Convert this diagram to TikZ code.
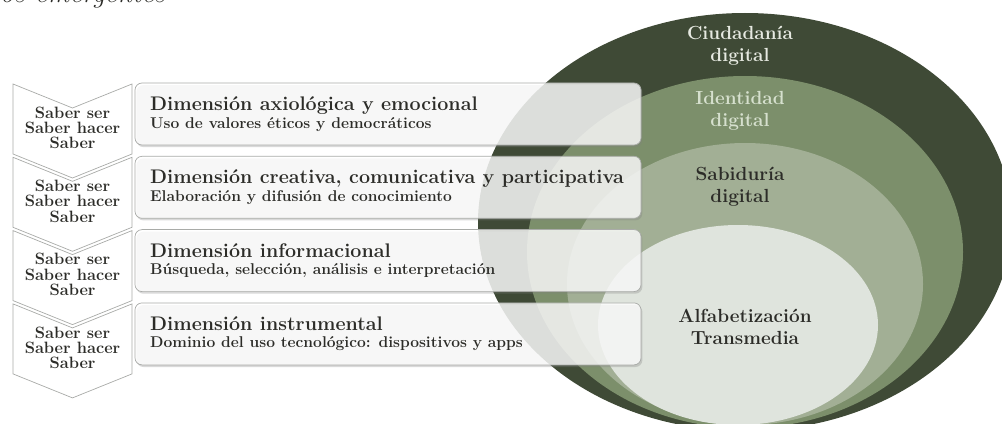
\documentclass[tikz,border=0pt]{standalone}
\usepackage{tikz}
\usetikzlibrary{positioning,shadows}
\definecolor{ciudad}{HTML}{3F4A36}
\definecolor{identidad}{HTML}{7C8F6B}
\definecolor{sabiduria}{HTML}{A2AF95}
\definecolor{alfabeto}{HTML}{DFE4DD}
\definecolor{rim}{HTML}{A9ABA8}
\definecolor{ink}{HTML}{2C2C28}
\definecolor{paleink}{HTML}{E6E9E1}
\definecolor{greenink}{HTML}{D6E0CE}

\begin{document}
\begin{tikzpicture}[x=0.03cm,y=-0.03cm,
    dimbox/.style={draw=rim,line width=0.6pt,fill=white,fill opacity=0.8,rounded corners=6pt,
      drop shadow={shadow xshift=1.2pt,shadow yshift=-1.8pt,opacity=0.3}},
    chevron/.style={draw=rim,line width=0.6pt,fill=white},
    headtext/.style={anchor=base west,inner sep=0pt,text=ink,font=\fontsize{16.8}{19}\selectfont\bfseries},
    notetext/.style={anchor=base west,inner sep=0pt,text=ink,font=\fontsize{13.3}{15}\selectfont\bfseries},
    sabertext/.style={align=center,inner sep=0pt,text=ink,font=\fontsize{14}{13}\selectfont\bfseries},
    ringtext/.style={align=center,inner sep=0pt,font=\fontsize{16.2}{18.5}\selectfont\bfseries}]
  \useasboundingbox (0,0) rectangle (1002,424);
  % caption line cut by the top edge
  \node[anchor=base west,inner sep=0pt,text=ink,font=\fontsize{23.7}{28}\selectfont\itshape] (caption) at (0,3) {os emergentes};

  % nested rings
  \fill[ciudad] (745,222) ellipse [x radius=267,y radius=209];
  \fill[identidad] (745,252) ellipse [x radius=218,y radius=176];
  \fill[sabiduria] (745,284) ellipse [x radius=178,y radius=141];
  \fill[alfabeto] (738,325) ellipse [x radius=140,y radius=100];

  % dimension boxes
  \foreach \k/\head/\note in {0/{Dimensión axiológica y emocional}/{Uso de valores éticos y democráticos},
      1/{Dimensión creativa, comunicativa y participativa}/{Elaboración y difusión de conocimiento},
      2/{Dimensión informacional}/{Búsqueda, selección, análisis e interpretación},
      3/{Dimensión instrumental}/{Dominio del uso tecnológico: dispositivos y apps}}{
    \pgfmathsetmacro\ytop{83+73.3*\k}
    \draw[dimbox] (135,\ytop) rectangle (641,\ytop+62);
    \node[headtext] (head\k) at (150,\ytop+27.5) {\head};
    \node[notetext] (note\k) at (150,\ytop+45) {\note};
  }

  % chevrons
  \foreach \k in {0,...,3}{
    \pgfmathsetmacro\ytop{84+73.3*\k}
    \draw[chevron] (13,\ytop) -- (72.5,\ytop+24) -- (132,\ytop) -- (132,\ytop+70)
      -- (72.5,\ytop+94) -- (13,\ytop+70) -- cycle;
    \node[sabertext] (saber\k) at (72.5,\ytop+44) {Saber ser\\Saber hacer\\Saber};
  }

  % ring labels
  \node[ringtext,text=paleink] (ciudadania) at (740,46) {Ciudadanía\\digital};
  \node[ringtext,text=greenink] (identidad) at (740,111) {Identidad\\digital};
  \node[ringtext,text=ink] (sabiduria) at (740,187) {Sabiduría\\digital};
  \node[ringtext,text=ink] (alfabetizacion) at (745,327) {Alfabetización\\Transmedia};
\end{tikzpicture}
\end{document}
